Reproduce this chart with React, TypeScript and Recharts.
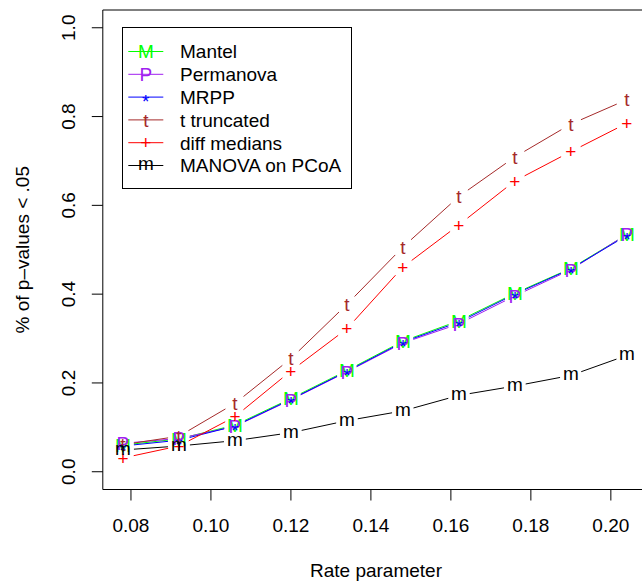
import React from 'react';
import { ScatterChart, Scatter, XAxis, YAxis, ReferenceArea, Legend } from 'recharts';

// ---- data ----
const rateValues = [0.078, 0.092, 0.106, 0.12, 0.134, 0.148, 0.162, 0.176, 0.19, 0.204];
const mantelValues = [0.06, 0.074, 0.105, 0.165, 0.228, 0.294, 0.34, 0.402, 0.458, 0.534];
const permanovaValues = [0.064, 0.075, 0.102, 0.162, 0.225, 0.29, 0.333, 0.396, 0.455, 0.535];
const mrppValues = [0.058, 0.071, 0.103, 0.163, 0.226, 0.292, 0.337, 0.4, 0.457, 0.532];
const tTruncatedValues = [0.061, 0.08, 0.154, 0.255, 0.377, 0.506, 0.62, 0.709, 0.783, 0.838];
const diffMediansValues = [0.031, 0.058, 0.124, 0.227, 0.322, 0.461, 0.556, 0.655, 0.721, 0.785];
const manovaValues = [0.049, 0.058, 0.07, 0.088, 0.115, 0.137, 0.172, 0.193, 0.217, 0.262];

const xTicks = [0.08, 0.1, 0.12, 0.14, 0.16, 0.18, 0.2];
const yTicks = [0, 0.2, 0.4, 0.6, 0.8, 1.0];
const seriesNames = ['Mantel', 'Permanova', 'MRPP', 't truncated', 'diff medians', 'MANOVA on PCoA'];
const seriesGlyphs = ['M', 'P', '*', 't', '+', 'm'];
const seriesColors = ['#00FF00', '#A020F0', '#0000FF', '#A52A2A', '#FF0000', '#000000'];
const xTitle = 'Rate parameter';
const yTitle = '% of p\u2013values < .05';

const X_MIN = 0.07296;
const X_MAX = 0.20904;
const Y_MIN = -0.04;
const Y_MAX = 1.04;

const FONT = '"Liberation Sans", Arimo, Arial, Helvetica, sans-serif';
const FS = 19;
const GAP = 11;

// vertical offset from glyph center to baseline
const glyphDy: Record<string, number> = { M: 6.8, P: 6.8, '*': 10.9, t: 6.6, '+': 6.7, m: 4.9 };

const seriesValues = [mantelValues, permanovaValues, mrppValues, tTruncatedValues, diffMediansValues, manovaValues];

const series = seriesNames.map((name, k) => ({
  name,
  glyph: seriesGlyphs[k],
  color: seriesColors[k],
  data: rateValues.map((x, i) => ({ x, y: seriesValues[k][i] })),
}));

function gappedLine(color: string) {
  return (props: any) => {
    const pts = (props && props.points) || [];
    const segs: React.ReactNode[] = [];
    for (let i = 0; i < pts.length - 1; i++) {
      const a = pts[i];
      const b = pts[i + 1];
      const dx = b.x - a.x;
      const dy = b.y - a.y;
      const d = Math.hypot(dx, dy);
      if (d <= 2 * GAP) continue;
      const ux = dx / d;
      const uy = dy / d;
      segs.push(
        <line
          key={i}
          x1={a.x + ux * GAP}
          y1={a.y + uy * GAP}
          x2={b.x - ux * GAP}
          y2={b.y - uy * GAP}
          stroke={color}
          strokeWidth={1}
        />
      );
    }
    return <g>{segs}</g>;
  };
}

function glyphShape(glyph: string, color: string) {
  return (props: any) => (
    <text
      x={props.cx}
      y={props.cy + glyphDy[glyph]}
      textAnchor="middle"
      fill={color}
      fontSize={FS}
      fontFamily={FONT}
    >
      {glyph}
    </text>
  );
}

const XTick = (props: any) => (
  <text x={props.x} y={531.7} textAnchor="middle" fill="#000" fontSize={FS} fontFamily={FONT}>
    {Number(props.payload.value).toFixed(2)}
  </text>
);

const YTick = (props: any) => (
  <text
    transform={`translate(75, ${props.y}) rotate(-90)`}
    x={0}
    y={0}
    textAnchor="middle"
    fill="#000"
    fontSize={FS}
    fontFamily={FONT}
  >
    {Number(props.payload.value).toFixed(1)}
  </text>
);

const LegendBox = () => {
  const rows = series.map((s, i) => {
    const cy = 24.5 + 22.8 * i;
    return (
      <g key={s.name}>
        <line x1={6.3} x2={41.3} y1={cy} y2={cy} stroke={s.color} strokeWidth={1} />
        <text x={23.8} y={cy + glyphDy[s.glyph]} textAnchor="middle" fill={s.color} fontSize={FS} fontFamily={FONT}>
          {s.glyph}
        </text>
        <text x={58} y={cy + 6.8} fill="#000" fontSize={FS} fontFamily={FONT}>
          {s.name}
        </text>
      </g>
    );
  });
  return (
    <svg width={230} height={162} style={{ display: 'block' }}>
      <rect x={0.5} y={0.5} width={229} height={161} fill="none" stroke="#000" strokeWidth={1} />
      {rows}
    </svg>
  );
};

export default function App() {
  return (
    <div style={{ position: 'absolute', left: 0, top: 0, width: 642, height: 587, overflow: 'hidden', background: '#fff' }}>
      <ScatterChart width={660} height={587} margin={{ top: 10, right: 13, bottom: 0, left: 0 }}>
        <XAxis
          type="number"
          dataKey="x"
          domain={[X_MIN, X_MAX]}
          ticks={xTicks}
          interval={0}
          allowDataOverflow
          axisLine={false}
          tickLine={{ stroke: '#000', strokeWidth: 1 }}
          tickSize={11}
          height={97.5}
          tick={XTick}
          label={() => (
            <text x={376} y={577.3} textAnchor="middle" fill="#000" fontSize={FS} fontFamily={FONT}>
              {xTitle}
            </text>
          )}
        />
        <YAxis
          type="number"
          dataKey="y"
          domain={[Y_MIN, Y_MAX]}
          ticks={yTicks}
          interval={0}
          allowDataOverflow
          axisLine={false}
          tickLine={{ stroke: '#000', strokeWidth: 1 }}
          tickSize={11}
          width={102.8}
          tick={YTick}
          label={() => (
            <text
              transform={`translate(28.5, 249.75) rotate(-90)`}
              x={0}
              y={0}
              textAnchor="middle"
              fill="#000"
              fontSize={FS}
              fontFamily={FONT}
            >
              {yTitle}
            </text>
          )}
        />
        <ReferenceArea x1={X_MIN} x2={X_MAX} y1={Y_MIN} y2={Y_MAX} fill="none" fillOpacity={0} stroke="#000" strokeWidth={1} strokeOpacity={1} />
        {series.map((s) => (
          <Scatter
            key={s.name}
            name={s.name}
            data={s.data}
            fill={s.color}
            line={gappedLine(s.color)}
            lineType="joint"
            shape={glyphShape(s.glyph, s.color)}
            isAnimationActive={false}
          />
        ))}
        <Legend
          layout="vertical"
          align="center"
          verticalAlign="middle"
          wrapperStyle={{ left: 122, top: 27, width: 230, height: 162 }}
          content={LegendBox}
        />
      </ScatterChart>
    </div>
  );
}
